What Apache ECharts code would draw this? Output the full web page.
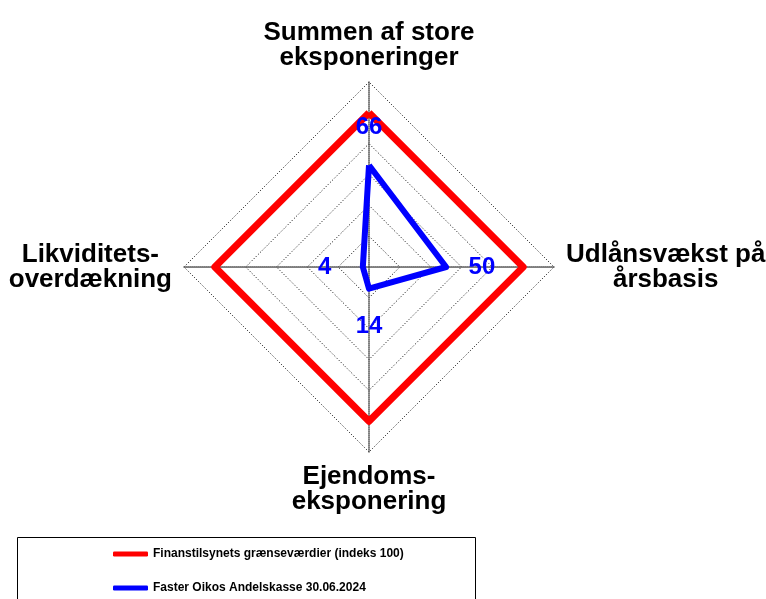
<!DOCTYPE html>
<html>
<head>
<meta charset="utf-8">
<script src="https://cdn.jsdelivr.net/npm/echarts@6/dist/echarts.min.js"></script>
<style>html,body{margin:0;padding:0;background:#fff}#c{width:766px;height:599px}</style>
</head>
<body>
<div id="c"></div>
<script>
// Indicator order (ECharts radar places them counter-clockwise from the top)
const indicatorNames = ['Summen af store\neksponeringer', 'Likviditets-\noverdækning', 'Ejendoms-\neksponering', 'Udlånsvækst på\nårsbasis'];
const radarMax = 120;
const seriesNames = ['Finanstilsynets grænseværdier (indeks 100)', 'Faster Oikos Andelskasse 30.06.2024'];
const limitValues = [100, 100, 100, 100];
const bankValues = [66, 4, 14, 50];

const font = "'Liberation Sans', Arial, sans-serif";
const labelPos = ['top', 'left', 'bottom', 'right'];
const labelDist = [25, 31, 25, 22];

const labelItems = bankValues.map((v, k) => ({
  value: bankValues,
  symbol: 'circle',
  symbolSize: 1,
  lineStyle: { opacity: 0 },
  itemStyle: { color: 'rgba(0,0,0,0)' },
  label: {
    show: true,
    position: labelPos[k],
    distance: labelDist[k],
    color: '#0000ff',
    fontSize: 24,
    fontWeight: 'bold',
    fontFamily: font,
    formatter: p => (p.value === bankValues[k] ? String(p.value) : '')
  }
}));

const chart = echarts.init(document.getElementById('c'), null, { renderer: 'canvas' });
chart.setOption({
  animation: false,
  backgroundColor: '#fff',
  graphic: [{
    type: 'rect',
    silent: true,
    shape: { x: 17.5, y: 537.5, width: 458, height: 100 },
    style: { fill: 'none', stroke: '#000', lineWidth: 1 }
  }],
  legend: {
    orient: 'vertical',
    left: 17,
    top: 537,
    padding: [9, 72, 2, 96],
    itemGap: 18,
    itemWidth: 35,
    itemHeight: 5,
    icon: 'roundRect',
    textStyle: { fontSize: 12, fontWeight: 'bold', color: '#000', fontFamily: font, lineHeight: 16 },
    data: seriesNames
  },
  radar: {
    center: [369, 267],
    radius: 185,
    shape: 'polygon',
    splitNumber: 6,
    nameGap: 12,
    indicator: indicatorNames.map(n => ({ name: n, max: radarMax, min: 0 })),
    axisName: {
      color: '#000',
      formatter: name => name.split('\n').map(s => '{c|' + s + '}').join('\n'),
      rich: {
        c: { align: 'center', fontSize: 26, fontWeight: 'bold', lineHeight: 25, fontFamily: font, color: '#000' }
      }
    },
    splitLine: { lineStyle: { color: '#000', type: [1, 2], width: 1 } },
    splitArea: { show: false },
    axisLine: { lineStyle: { color: '#555', type: [1, 1], width: 1.5 } },
    axisTick: { show: false },
    axisLabel: { show: false }
  },
  series: [
    {
      name: seriesNames[0],
      type: 'radar',
      symbol: 'none',
      color: '#ff0000',
      lineStyle: { color: '#ff0000', width: 7 },
      data: [{ value: limitValues }]
    },
    {
      name: seriesNames[1],
      type: 'radar',
      symbol: 'none',
      color: '#0000ff',
      z: 3,
      lineStyle: { color: '#0000ff', width: 6 },
      data: [{ value: bankValues }].concat(labelItems)
    }
  ]
});
</script>
</body>
</html>
